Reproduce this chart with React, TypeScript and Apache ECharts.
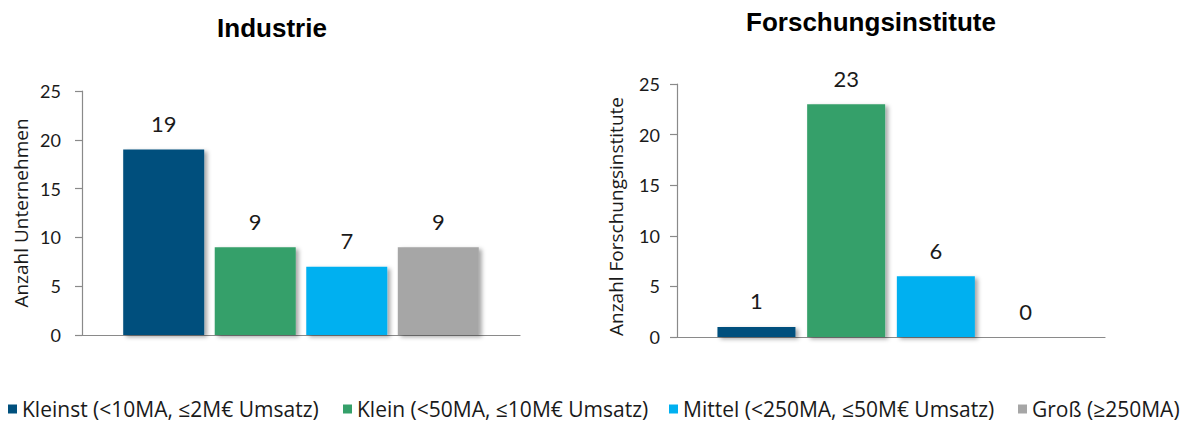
import React, { useEffect, useRef } from "react";
import * as echarts from "echarts";

// Size classes shown in the legend and as bars in both panels
const sizeClasses = [
  "Kleinst (<10MA, ≤2M€ Umsatz)",
  "Klein (<50MA, ≤10M€ Umsatz)",
  "Mittel (<250MA, ≤50M€ Umsatz)",
  "Groß (≥250MA)",
];
const industrieValues = [19, 9, 7, 9];
const forschungValues = [1, 23, 6, 0];
const classColors = ["#00507d", "#35a06a", "#00b0f0", "#a6a6a6"];

const panelTitles = ["Industrie", "Forschungsinstitute"];
const axisNames = ["Anzahl Unternehmen", "Anzahl Forschungsinstitute"];
const yMin = 0;
const yMax = 25;
const yStep = 5;

const FONT = "Lato, 'Noto Sans', sans-serif";
const WIDE_FONT = "'Open Sans', 'Noto Sans', sans-serif";
const TEXT = "#1a1a1a";
const AXIS = "#8a8a8a";

export default function App() {
  const ref = useRef<HTMLDivElement>(null);

  useEffect(() => {
    if (!ref.current) return;
    const chart = echarts.init(ref.current, undefined, { renderer: "svg" });

    const yAxisBase = (idx: number, labelMargin: number, gap: number, namePad: number[]) => ({
      type: "value",
      gridIndex: idx,
      min: yMin,
      max: yMax,
      interval: yStep,
      name: axisNames[idx],
      nameLocation: "middle",
      nameGap: gap,
      nameRotate: 90,
      nameTextStyle: { fontFamily: WIDE_FONT, fontSize: 19, color: TEXT, padding: namePad },
      axisLine: { show: true, lineStyle: { color: AXIS, width: 1.2 } },
      axisTick: { show: true, inside: false, length: 7, lineStyle: { color: AXIS, width: 1.2 } },
      axisLabel: { fontFamily: FONT, fontSize: 18, color: TEXT, margin: labelMargin },
      splitLine: { show: false },
    });

    const xAxisBase = (idx: number) => ({
      type: "category",
      gridIndex: idx,
      data: [""],
      axisLine: { show: true, lineStyle: { color: AXIS, width: 1.2 } },
      axisTick: { show: false },
      axisLabel: { show: false },
    });

    const barSeries = (values: number[], idx: number, width: number, gap: string) =>
      sizeClasses.map((name, i) => ({
        name,
        type: "bar",
        xAxisIndex: idx,
        yAxisIndex: idx,
        data: [values[i]],
        barWidth: width,
        barGap: gap,
        itemStyle: {
          color: classColors[i],
          shadowColor: "rgba(0,0,0,0.35)",
          shadowBlur: 4,
          shadowOffsetX: 3,
          shadowOffsetY: 2,
        },
        label: {
          show: true,
          position: "top",
          distance: 15,
          fontFamily: FONT,
          fontSize: 22,
          color: TEXT,
        },
      }));

    const legendLefts = [8, 343, 669, 1018];

    chart.setOption({
      animation: false,
      backgroundColor: "#ffffff",
      grid: [
        { left: 82, top: 91, width: 438, height: 244 },
        { left: 677, top: 84, width: 428, height: 253 },
      ],
      xAxis: [xAxisBase(0), xAxisBase(1)],
      yAxis: [yAxisBase(0, 21, 52, [0, 0, 0, 0]), yAxisBase(1, 17, 52, [0, 12, 0, 0])],
      legend: sizeClasses.map((name, i) => ({
        data: [name],
        left: legendLefts[i],
        top: 397,
        padding: 0,
        itemWidth: 9,
        itemHeight: 9,
        itemGap: 0,
        icon: "rect",
        selectedMode: false,
        textStyle: { fontFamily: WIDE_FONT, fontSize: 21, color: TEXT, lineHeight: 24 },
      })),
      graphic: [
        {
          type: "text",
          x: 272,
          y: 28,
          style: {
            text: panelTitles[0],
            fontFamily: "'Liberation Sans', Arial, sans-serif",
            fontWeight: "bold",
            fontSize: 26,
            fill: "#000",
            align: "center",
            verticalAlign: "middle",
          },
        },
        {
          type: "text",
          x: 871,
          y: 22,
          style: {
            text: panelTitles[1],
            fontFamily: "'Liberation Sans', Arial, sans-serif",
            fontWeight: "bold",
            fontSize: 26,
            fill: "#000",
            align: "center",
            verticalAlign: "middle",
          },
        },
      ],
      series: [
        ...barSeries(industrieValues, 0, 81, "13%"),
        ...barSeries(forschungValues, 1, 78, "15%"),
      ],
    });

    return () => chart.dispose();
  }, []);

  return (
    <div
      ref={ref}
      style={{ position: "fixed", left: 0, top: 0, width: 1190, height: 423, background: "#fff" }}
    />
  );
}
